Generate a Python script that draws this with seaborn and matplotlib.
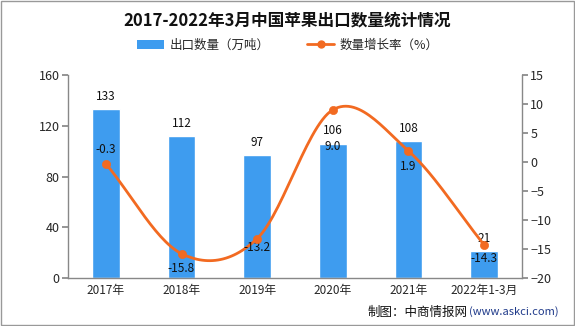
import numpy as np
import pandas as pd
import matplotlib
matplotlib.use("Agg")
import matplotlib.pyplot as plt
import seaborn as sns
from matplotlib.patches import Patch, Rectangle
from matplotlib.lines import Line2D

categories = ["2017年", "2018年", "2019年", "2020年", "2021年", "2022年1-3月"]
export_volume = [133, 112, 97, 106, 108, 21]
growth_rate = [-0.3, -15.8, -13.2, 9.0, 1.9, -14.3]

sns.set_theme(style="white")
plt.rcParams['font.family'] = ['Noto Sans CJK SC', 'DejaVu Sans']

bar_color = "#3E9CEF"
line_color = "#F26A21"

fig = plt.figure(figsize=(5.75, 3.26), dpi=100)
ax = fig.add_axes([68/575, 1-278/326, (522-68)/575, (278-75)/326])

df = pd.DataFrame({"cat": categories, "vol": export_volume, "rate": growth_rate})
sns.barplot(data=df, x="cat", y="vol", color=bar_color, width=0.37, ax=ax, saturation=1)
ax.set_ylim(0, 160)
ax.set_yticks([0, 40, 80, 120, 160])
ax.set_xlabel("")
ax.set_ylabel("")
for i, v in enumerate(export_volume):
    ax.text(i, v + 5, f"{v}", ha="center", va="bottom", fontsize=8.5, color="#111")

ax2 = ax.twinx()
ax2.set_ylim(-20, 15)
ax2.set_yticks(range(-20, 16, 5))
ax2.set_yticklabels([f"−{abs(t)}" if t < 0 else str(t) for t in range(-20, 16, 5)])

# smooth (Catmull-Rom) rendering of the line through the data points
xs = np.arange(len(growth_rate), dtype=float)
ys = np.array(growth_rate, dtype=float)
px = np.concatenate([[2*xs[0]-xs[1]], xs, [2*xs[-1]-xs[-2]]])
py = np.concatenate([[2*ys[0]-ys[1]], ys, [2*ys[-1]-ys[-2]]])
cx, cy = [], []
t = np.linspace(0, 1, 30)
for k in range(1, len(px)-2):
    p0, p1, p2, p3 = [np.array([px[j], py[j]]) for j in (k-1, k, k+1, k+2)]
    seg = 0.5*((2*p1) + (-p0+p2)*t[:, None] + (2*p0-5*p1+4*p2-p3)*t[:, None]**2 + (-p0+3*p1-3*p2+p3)*t[:, None]**3)
    cx.extend(seg[:, 0]); cy.extend(seg[:, 1])
ax2.plot(cx, cy, color=line_color, lw=2, zorder=3)
sns.scatterplot(x=xs, y=ys, color=line_color, s=35, ax=ax2, zorder=4, edgecolor=line_color, legend=False)

offsets = [2.5, -2.6, -1.6, -6.3, -2.6, -2.3]
for i, v in enumerate(growth_rate):
    ax2.text(i, v + offsets[i], f"{v}", ha="center", va="center", fontsize=8.5, color="#111")

for a in (ax, ax2):
    for s in a.spines.values():
        s.set_visible(False)
ax.spines["left"].set_visible(True)
ax.spines["bottom"].set_visible(True)
ax2.spines["right"].set_visible(True)
for s in (ax.spines["left"], ax.spines["bottom"], ax2.spines["right"]):
    s.set_color("#888888"); s.set_linewidth(1)

ax.tick_params(axis="y", length=4, color="#888888", labelsize=9, pad=2, left=True)
ax.tick_params(axis="x", length=0, labelsize=8.5, pad=4)
ax2.tick_params(axis="y", length=4, color="#888888", labelsize=9, pad=2, right=True)
ax.set_xlim(-0.5, len(categories)-0.5)

fig.text(0.5, 1-20/326, "2017-2022年3月中国苹果出口数量统计情况", ha="center", va="center",
         fontsize=12, fontweight="bold", color="#111")

handles = [Patch(facecolor=bar_color, edgecolor="none", label="出口数量（万吨）"),
           Line2D([0], [0], color=line_color, lw=2, marker="o", markersize=5, label="数量增长率（%）")]
fig.legend(handles=handles, loc="center", bbox_to_anchor=(0.5, 1-45/326), ncol=2, frameon=False,
           fontsize=9, handlelength=2.2, columnspacing=3, handletextpad=0.4)

fig.text(468/575, 1-312/326, "制图：中商情报网", ha="right", va="center", fontsize=9, color="#111")
fig.text(469/575, 1-312/326, "(www.askci.com)", ha="left", va="center", fontsize=8, color="#1F3A8A")

fig.patches.append(Rectangle((0.001, 0.002), 0.997, 0.995, transform=fig.transFigure,
                             fill=False, edgecolor="#999999", lw=1))

fig.savefig("out.png", dpi=100, facecolor="white")
